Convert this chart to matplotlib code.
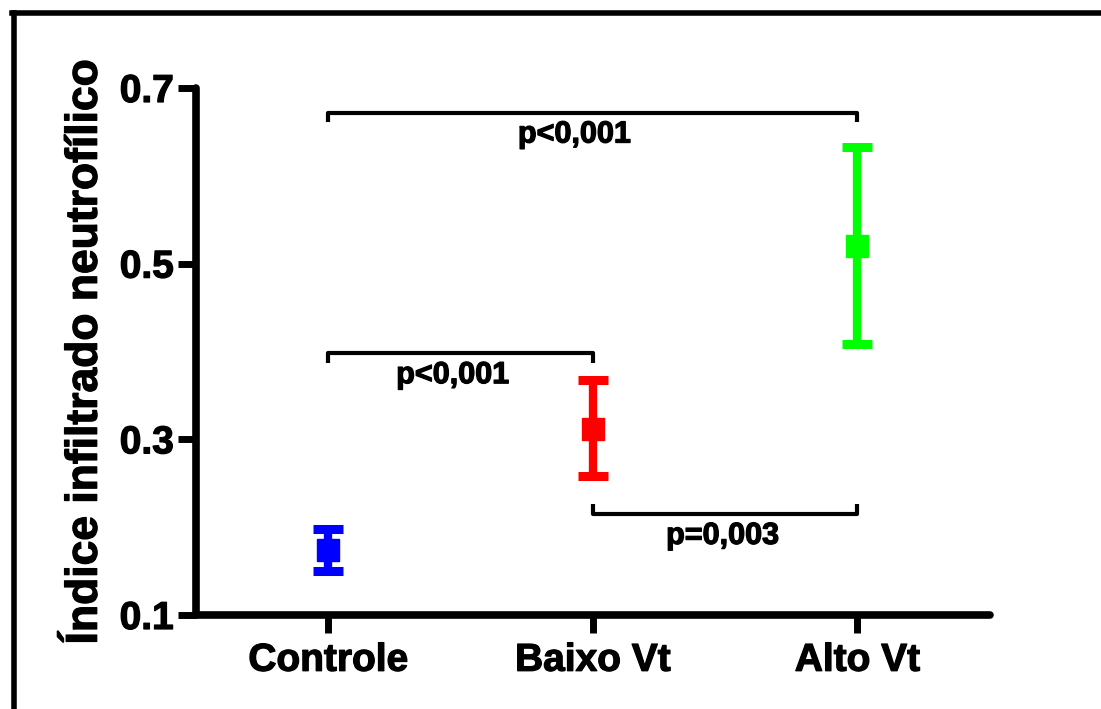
import numpy as np
import matplotlib
matplotlib.use('Agg')
import matplotlib.pyplot as plt
import matplotlib.patheffects as pe
from matplotlib.lines import Line2D

plt.rcParams['font.family'] = ['Liberation Sans', 'DejaVu Sans']
plt.rcParams['font.weight'] = 'bold'

groups = ['Controle', 'Baixo Vt', 'Alto Vt']
means = [0.174, 0.312, 0.520]
err_lo = [0.024, 0.054, 0.111]
err_hi = [0.024, 0.055, 0.113]
colors = ['#0000ff', '#ff0000', '#00ff00']

# brackets: (x1, x2, y, direction, label, label_x, label_y)
brackets = [
    (0, 2, 0.672, -1, 'p<0,001', 0.93, 0.647),
    (0, 1, 0.398, -1, 'p<0,001', 0.47, 0.373),
    (1, 2, 0.215, 1, 'p=0,003', 1.49, 0.190),
]
yticks = [0.1, 0.3, 0.5, 0.7]

heavy = [pe.withStroke(linewidth=0.9, foreground='black')]

fig = plt.figure(figsize=(11.01, 7.09), dpi=100)
ax = fig.add_axes([0.178, 0.1326, 0.721, 0.7433])

x = np.arange(len(groups))
for i in range(len(groups)):
    ax.errorbar(x[i], means[i], yerr=[[err_lo[i]], [err_hi[i]]], fmt='s',
                color=colors[i], ms=16, elinewidth=6, capsize=11, capthick=6.5,
                solid_capstyle='round', dash_capstyle='round')

for x1, x2, y, d, lab, lx, ly in brackets:
    h = 0.011 * d
    ax.plot([x1, x1, x2, x2], [y + h, y, y, y + h], color='black', lw=3,
            solid_capstyle='butt', clip_on=False)
    ax.text(lx, ly, lab, ha='center', va='center', fontsize=22, fontweight='bold',
            path_effects=heavy)

ax.set_xlim(-0.5, 2.5)
ax.set_ylim(0.1, 0.7)
ax.set_xticks(x)
ax.set_xticklabels(groups)
ax.set_yticks(yticks)
ax.set_yticklabels([str(t) for t in yticks])
ax.set_ylabel('Índice infiltrado neutrofílico', fontsize=32, fontweight='bold', labelpad=10,
              path_effects=heavy)

for s in ['top', 'right']:
    ax.spines[s].set_visible(False)
for s in ['left', 'bottom']:
    ax.spines[s].set_linewidth(5.5)
    ax.spines[s].set_capstyle('round')
ax.tick_params(axis='both', width=5, length=13, labelsize=28, pad=3)
ax.tick_params(axis='x', pad=7)
for lbl in ax.get_xticklabels() + ax.get_yticklabels():
    lbl.set_fontweight('bold')
    lbl.set_path_effects(heavy)
for t in ax.xaxis.get_major_ticks() + ax.yaxis.get_major_ticks():
    t.tick1line.set_solid_capstyle('round')

# outer frame of the figure
fig.add_artist(Line2D([0.013, 0.013], [0.0, 0.981], color='black', lw=4, transform=fig.transFigure))
fig.add_artist(Line2D([0.011, 1.0], [0.981, 0.981], color='black', lw=4, transform=fig.transFigure))

fig.savefig('out.png', dpi=100)
